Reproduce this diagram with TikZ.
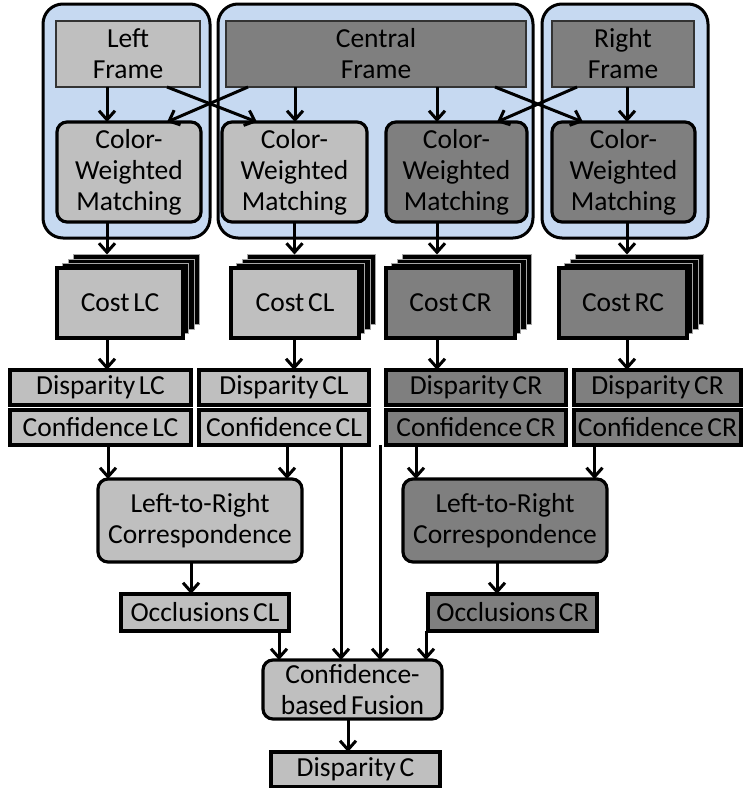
\documentclass[tikz,border=0pt]{standalone}
\usepackage{fontspec}
\setmainfont{Carlito}[WordSpace=0.6]
\usetikzlibrary{arrows.meta}
\definecolor{lgray}{HTML}{BFBFBF}
\definecolor{dgray}{HTML}{7F7F7F}
\definecolor{bluebg}{HTML}{C6D9F1}
\tikzset{
  every node/.style={font=\fontsize{27.5}{31}\selectfont, align=center, inner sep=0pt, outer sep=0pt},
  group/.style={draw=black, line width=3pt, fill=bluebg, rounded corners=20pt},
  frame/.style={draw=black!80, line width=2.6pt},
  rbox/.style={draw=black, line width=3.2pt, rounded corners=10pt},
  sbox/.style={draw=black, line width=3.2pt},
  layer/.style={draw=gray!70, line width=0.8pt, fill=black},
  arr/.style={line width=3pt, -{Straight Barb[length=9pt,width=16pt,line width=3pt]}},
}
\begin{document}
\begin{tikzpicture}[x=1pt,y=-1pt]
\useasboundingbox (0,0) rectangle (743,788);
% groups
\node[group, minimum width=167, minimum height=234] (gl) at (126.5,121) {};
\node[group, minimum width=315, minimum height=234] (gc) at (375.5,121) {};
\node[group, minimum width=166, minimum height=234] (gr) at (625,121) {};
% frames
\node[frame, fill=lgray, minimum width=144, minimum height=66] (lf) at (128,54) {Left\\Frame};
\node[frame, fill=dgray, minimum width=300, minimum height=66] (cf) at (376,54) {Central\\Frame};
\node[frame, fill=dgray, minimum width=142, minimum height=66] (rf) at (623,54) {Right\\Frame};
% matching
\node[rbox, fill=lgray, minimum width=144, minimum height=100] (m1) at (129,172) {Color-\\Weighted\\Matching};
\node[rbox, fill=lgray, minimum width=145, minimum height=100] (m2) at (294.5,172) {Color-\\Weighted\\Matching};
\node[rbox, fill=dgray, minimum width=141, minimum height=100] (m3) at (456.5,172) {Color-\\Weighted\\Matching};
\node[rbox, fill=dgray, minimum width=143, minimum height=100] (m4) at (623.5,172) {Color-\\Weighted\\Matching};
% cost stacks
\foreach \n/\cx/\w/\col/\txt in {c1/120/126/lgray/Cost LC, c2/295/128/lgray/Cost CL, c3/450.5/129/dgray/Cost CR, c4/623/128/dgray/Cost RC}{
  \node[layer, minimum width=\w, minimum height=70] (\n b3) at (\cx+16.5,303-13.5) {};
  \node[layer, minimum width=\w, minimum height=70] (\n b2) at (\cx+11,303-9) {};
  \node[layer, minimum width=\w, minimum height=70] (\n b1) at (\cx+5.5,303-4.5) {};
  \node[sbox, fill=\col, minimum width=\w, minimum height=70] (\n) at (\cx,303) {\txt};
}
% disparity / confidence
\node[sbox, fill=lgray, minimum width=181, minimum height=35] (d1) at (100.5,387.5) {Disparity LC};
\node[sbox, fill=lgray, minimum width=170, minimum height=35] (d2) at (284,387.5) {Disparity CL};
\node[sbox, fill=dgray, minimum width=180, minimum height=35] (d3) at (476,387.5) {Disparity CR};
\node[sbox, fill=dgray, minimum width=167, minimum height=35] (d4) at (657.5,387.5) {Disparity CR};
\node[sbox, fill=lgray, minimum width=181, minimum height=35] (k1) at (100.5,427.5) {Confidence LC};
\node[sbox, fill=lgray, minimum width=170, minimum height=35] (k2) at (284,427.5) {Confidence CL};
\node[sbox, fill=dgray, minimum width=180, minimum height=35] (k3) at (476,427.5) {Confidence CR};
\node[sbox, fill=dgray, minimum width=167, minimum height=35] (k4) at (657.5,427.5) {Confidence CR};
% left-right
\node[rbox, fill=lgray, minimum width=204, minimum height=83] (lr1) at (200,520.5) {Left-to-Right\\Correspondence};
\node[rbox, fill=dgray, minimum width=204, minimum height=83] (lr2) at (505,520.5) {Left-to-Right\\Correspondence};
% occlusions
\node[sbox, fill=lgray, minimum width=168, minimum height=37] (o1) at (205,612.5) {Occlusions CL};
\node[sbox, fill=dgray, minimum width=169, minimum height=37] (o2) at (512.5,612.5) {Occlusions CR};
% fusion
\node[rbox, fill=lgray, minimum width=179, minimum height=59] (fu) at (352.5,689.5) {Confidence-\\based Fusion};
\node[sbox, fill=lgray, minimum width=169, minimum height=35] (dc) at (355.5,769.5) {Disparity C};
% top arrows
\draw[arr] ([xshift=-21]lf.south) -- ([xshift=-21]lf.south |- m1.north);
\draw[arr] ([xshift=39]lf.south) -- ([xshift=-37.5]m2.north);
\draw[arr] ([xshift=-128]cf.south) -- ([xshift=38]m1.north);
\draw[arr] ([xshift=-81]cf.south) -- ([xshift=-81]cf.south |- m2.north);
\draw[arr] ([xshift=61]cf.south) -- ([xshift=61]cf.south |- m3.north);
\draw[arr] ([xshift=119]cf.south) -- ([xshift=-40.5]m4.north);
\draw[arr] ([xshift=-46]rf.south) -- ([xshift=40.5]m3.north);
\draw[arr] ([xshift=4]rf.south) -- ([xshift=4]rf.south |- m4.north);
% matching to cost
\draw[arr] ([xshift=-22]m1.south) -- ([xshift=-22]m1.south |- c1b3.north);
\draw[arr] (m2.south) -- (m2.south |- c2b3.north);
\draw[arr] ([xshift=-19.5]m3.south) -- ([xshift=-19.5]m3.south |- c3b3.north);
\draw[arr] ([xshift=3.5]m4.south) -- ([xshift=3.5]m4.south |- c4b3.north);
% cost to disparity
\draw[arr] ([xshift=-13]c1.south) -- ([xshift=-13]c1.south |- d1.north);
\draw[arr] ([xshift=-1]c2.south) -- ([xshift=-1]c2.south |- d2.north);
\draw[arr] ([xshift=-13.5]c3.south) -- ([xshift=-13.5]c3.south |- d3.north);
\draw[arr] ([xshift=4]c4.south) -- ([xshift=4]c4.south |- d4.north);
% confidence onward
\draw[arr] ([xshift=7.5]k1.south) -- ([xshift=7.5]k1.south |- lr1.north);
\draw[arr] ([xshift=3]k2.south) -- ([xshift=3]k2.south |- lr1.north);
\draw[arr] ([xshift=57]k2.south) -- ([xshift=57]k2.south |- fu.north);
\draw[arr] ([xshift=-96]k3.south) -- ([xshift=-96]k3.south |- fu.north);
\draw[arr] ([xshift=-60]k3.south) -- ([xshift=-60]k3.south |- lr2.north);
\draw[arr] ([xshift=-63]k4.south) -- ([xshift=-63]k4.south |- lr2.north);
\draw[arr] ([xshift=-9]lr1.south) -- ([xshift=-9]lr1.south |- o1.north);
\draw[arr] ([xshift=-8]lr2.south) -- ([xshift=-8]lr2.south |- o2.north);
\draw[arr] ([xshift=74]o1.south) -- ([xshift=74]o1.south |- fu.north);
\draw[arr] ([xshift=-86.5]o2.south) -- ([xshift=-86.5]o2.south |- fu.north);
\draw[arr] ([xshift=-4.5]fu.south) -- ([xshift=-4.5]fu.south |- dc.north);
\end{tikzpicture}
\end{document}
